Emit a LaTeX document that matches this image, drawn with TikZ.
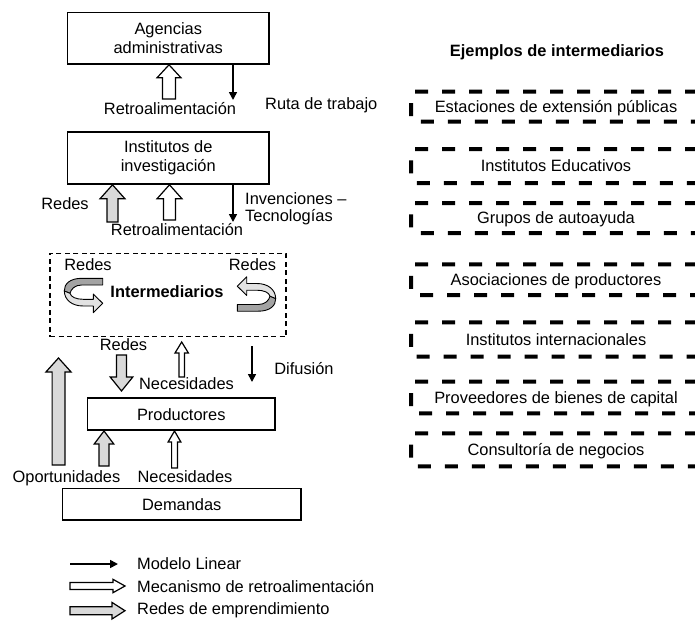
\documentclass[tikz,border=0pt]{standalone}
\usepackage{fontspec}
\setmainfont{Liberation Sans}
\usetikzlibrary{arrows.meta,calc}

\definecolor{netgray}{HTML}{D9D9D9}
\definecolor{twistdark}{HTML}{A3A3A3}
\definecolor{twistlight}{HTML}{E2E2E2}

% Block arrow from tail #2 to tip #3:
% #4 half shaft width, #5 half head width, #6 head length
\newcommand\blockarrow[6]{%
  \draw[#1] let \p1=(#2), \p2=(#3),
      \n1={veclen(\x2-\x1,\y2-\y1)},
      \n2={(\x2-\x1)/\n1}, \n3={(\y2-\y1)/\n1} in
    ({\x1-(\n3)*#4},{\y1+(\n2)*#4})
    -- ({\x2-(\n2)*#6-(\n3)*#4},{\y2-(\n3)*#6+(\n2)*#4})
    -- ({\x2-(\n2)*#6-(\n3)*#5},{\y2-(\n3)*#6+(\n2)*#5})
    -- (\x2,\y2)
    -- ({\x2-(\n2)*#6+(\n3)*#5},{\y2-(\n3)*#6-(\n2)*#5})
    -- ({\x2-(\n2)*#6+(\n3)*#4},{\y2-(\n3)*#6-(\n2)*#4})
    -- ({\x1+(\n3)*#4},{\y1-(\n2)*#4}) -- cycle;}

% Twisted ribbon arrow (local frame, y pointing down)
\newcommand\twistarrow{%
  \draw[line width=0.9pt, fill=twistdark, line join=round]
    (42.7,8.3) -- (21.7,8.3) .. controls (10,8.3) and (4,14) .. (4.3,21)
    -- (10,23.3) .. controls (11,19) and (15,15) .. (21.7,15) -- (42.7,15) -- cycle;
  \draw[line width=0.9pt, fill=twistlight, line join=round]
    (4.3,21) .. controls (4.5,30) and (12,36) .. (23.3,36) -- (33.3,36)
    -- (33.3,42.7) -- (42.7,33.3) -- (33.3,24) -- (33.3,29.3) -- (23.3,29.3)
    .. controls (16,29.3) and (11,27) .. (10,23.3) -- cycle;}

\begin{document}
\begin{tikzpicture}[x=1pt,y=-1pt,
  font=\fontsize{16.4pt}{19.5pt}\selectfont,
  box/.style={draw, line width=1.6pt, inner sep=0pt, align=center},
  onebox/.style={box, text height=11.7pt, text depth=0pt},
  interbox/.style={draw, line width=1.1pt, dash pattern=on 5pt off 3.5pt},
  exbox/.style={draw, line width=4pt, dash pattern=on 13pt off 14pt,
    rounded corners=3pt, minimum width=290pt, inner sep=0pt,
    text height=11.7pt, text depth=0pt},
  lbl/.style={inner sep=0pt, text height=11.7pt, text depth=0pt},
  linear/.style={line width=1.6pt, -{Triangle[length=8pt,width=8pt]}},
  hollow/.style={draw, line width=1.2pt, fill=white, line join=miter},
  netw/.style={draw, line width=1.2pt, fill=netgray, line join=miter}]

\useasboundingbox (0,0) rectangle (695,621);
\clip (0,0) rectangle (695,621);

% ---------- main chain ----------
\node[box, minimum width=201.5pt, minimum height=51.5pt] (agen) at (168.25,38.25)
  {Agencias\\administrativas};
\node[box, minimum width=201.5pt, minimum height=52pt] (inst) at (168.25,158)
  {Institutos de\\investigación};
\node[interbox, minimum width=236pt, minimum height=83.4pt] (inter) at (168,295) {};
\node[lbl, font=\fontsize{16.4pt}{19.5pt}\selectfont\bfseries] (interlbl) at (167,292) {Intermediarios};
\node[onebox, minimum width=187.5pt, minimum height=32pt] (prod) at (181.25,414.2) {Productores};
\node[onebox, minimum width=238.3pt, minimum height=31.3pt] (dem) at (181.7,504.2) {Demandas};

% free ends of the connectors
\coordinate (fb1) at (169,99);
\coordinate (ln1) at (233,100);
\coordinate (nw1) at (112.5,222);
\coordinate (fb2) at (169.5,220);
\coordinate (ln2) at (233,222);
\coordinate (nw2a) at (121.5,355);
\coordinate (nw2b) at (121.5,391);
\coordinate (fb3a) at (181.7,377);
\coordinate (fb3b) at (181.7,342);
\coordinate (ln3a) at (252,346);
\coordinate (ln3b) at (252,382);
\coordinate (opa) at (58.5,465);
\coordinate (opb) at (58.5,358);
\coordinate (nw4) at (104,466);
\coordinate (fb4) at (174.5,468);

% agencies <-> institutes
\blockarrow{hollow}{fb1}{fb1 |- agen.south}{6.5pt}{12pt}{13pt}
\draw[linear] (ln1 |- agen.south) -- (ln1);
% institutes <-> intermediaries
\blockarrow{netw}{nw1}{nw1 |- inst.south}{5.5pt}{12.5pt}{14pt}
\blockarrow{hollow}{fb2}{fb2 |- inst.south}{6pt}{12.5pt}{14pt}
\draw[linear] (ln2 |- inst.south) -- (ln2);
% intermediaries <-> producers
\blockarrow{netw}{nw2a}{nw2b}{5pt}{11.3pt}{14pt}
\blockarrow{hollow}{fb3a}{fb3b}{2.7pt}{6.7pt}{11pt}
\draw[linear] (ln3a) -- (ln3b);
% demand side
\blockarrow{netw}{opa}{opb}{6.4pt}{12.6pt}{14pt}
\blockarrow{netw}{nw4}{nw4 |- prod.south}{5pt}{9.8pt}{13pt}
\blockarrow{hollow}{fb4}{fb4 |- prod.south}{2.9pt}{6.4pt}{11pt}

% twisted networking arrows inside the intermediaries box
\begin{scope}[shift={(60,270)}]
  \twistarrow
\end{scope}
\begin{scope}[shift={(256.5,294)}, rotate=180, shift={(-23.5,-25.5)}]
  \twistarrow
\end{scope}

% ---------- labels ----------
\node[lbl] (lretro1) at (170,109) {Retroalimentación};
\node[lbl, anchor=west] (lruta) at (265,104) {Ruta de trabajo};
\node[lbl] (lredes1) at (65,204) {Redes};
\node[inner sep=0pt, anchor=north west, align=left,
  font=\fontsize{16.4pt}{17pt}\selectfont] (linv) at (245,192.2)
  {Invenciones –\\Tecnologías};
\node[lbl] (lretro2) at (177,230) {Retroalimentación};
\node[lbl] (lredesL) at (88,265) {Redes};
\node[lbl] (lredesR) at (252.5,265) {Redes};
\node[lbl] (lredes3) at (123.5,345) {Redes};
\node[lbl] (lnec1) at (186.5,384) {Necesidades};
\node[lbl] (ldif) at (304,369) {Difusión};
\node[lbl] (lopor) at (66.5,477) {Oportunidades};
\node[lbl] (lnec2) at (185,477) {Necesidades};

% ---------- legend ----------
\coordinate (lg1a) at (70,564);
\coordinate (lg1b) at (118,564);
\coordinate (lg2a) at (70,586);
\coordinate (lg2b) at (125,586);
\coordinate (lg3a) at (70,610.7);
\coordinate (lg3b) at (125,610.7);
\draw[linear] (lg1a) -- (lg1b);
\blockarrow{hollow}{lg2a}{lg2b}{3.5pt}{6.7pt}{12pt}
\blockarrow{netw}{lg3a}{lg3b}{4pt}{8.3pt}{13pt}
\node[lbl, anchor=west] (lgt1) at (137,564) {Modelo Linear};
\node[lbl, anchor=west] (lgt2) at (137,587) {Mecanismo de retroalimentación};
\node[lbl, anchor=west] (lgt3) at (137,608.7) {Redes de emprendimiento};

% ---------- examples of intermediaries ----------
\node[lbl, font=\fontsize{16.4pt}{19.5pt}\selectfont\bfseries] (extitle) at (557,51)
  {Ejemplos de intermediarios};
\node[exbox, minimum height=30pt] (ex1) at (556,106.7) {Estaciones de extensión públicas};
\node[exbox, minimum height=34pt] (ex2) at (556,166) {Institutos Educativos};
\node[exbox, minimum height=30pt] (ex3) at (556,218) {Grupos de autoayuda};
\node[exbox, minimum height=30.7pt] (ex4) at (556,279.7) {Asociaciones de productores};
\node[exbox, minimum height=34.3pt] (ex5) at (556,339.5) {Institutos internacionales};
\node[exbox, minimum height=31.7pt] (ex6) at (556,397.5) {Proveedores de bienes de capital};
\node[exbox, minimum height=33pt] (ex7) at (556,449.8) {Consultoría de negocios};
\end{tikzpicture}
\end{document}
